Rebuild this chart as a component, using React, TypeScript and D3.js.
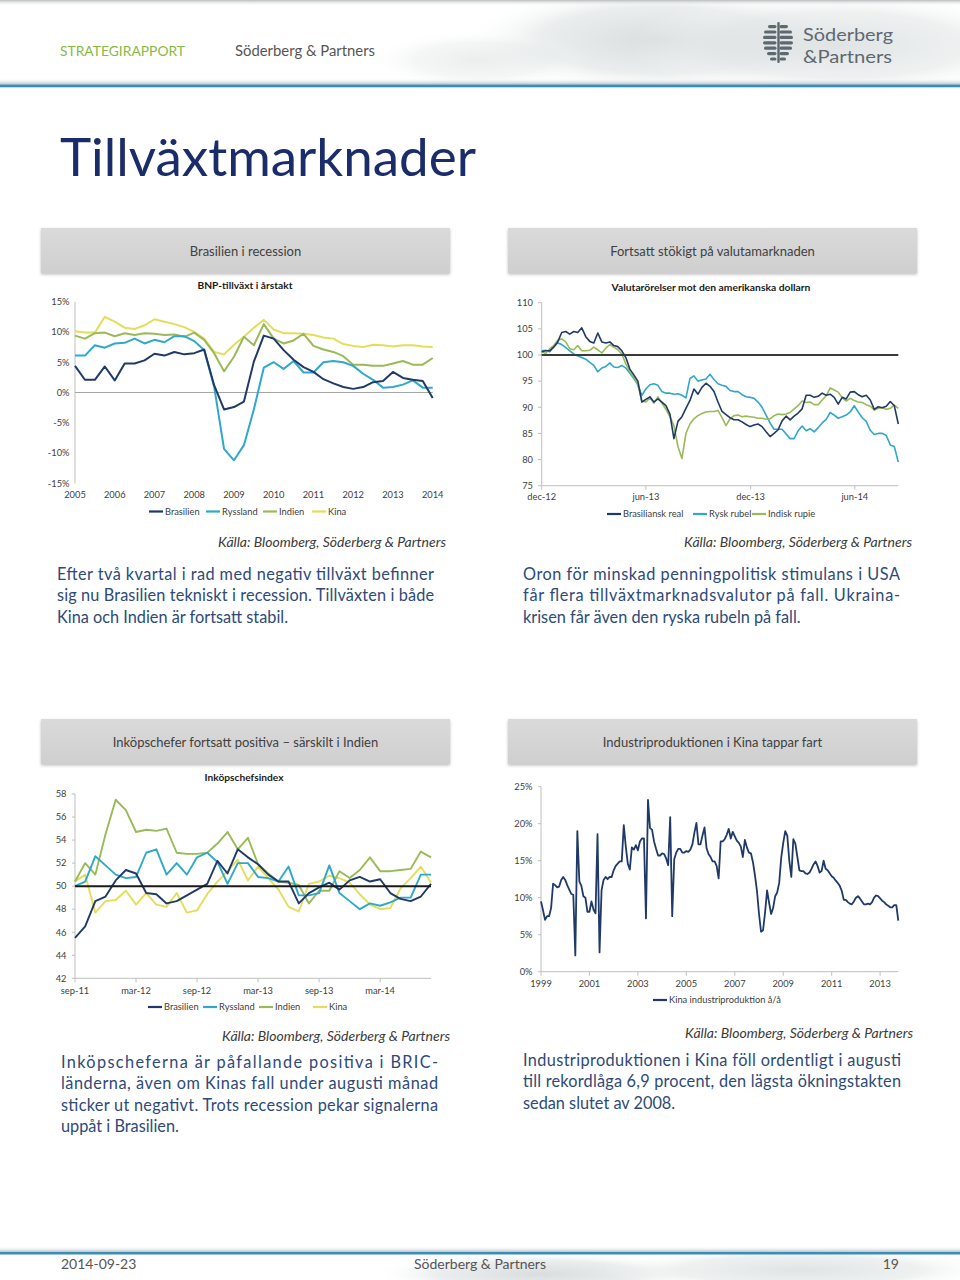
import React from 'react';
import * as d3 from 'd3';

const FONT = "Lato, 'Open Sans', 'DejaVu Sans', sans-serif";
const NAVY = '#1f3a68';
const TEAL = '#2fa8c9';
const GREEN = '#9aba58';
const YELLOW = '#e3de5a';
const AXIS = '#bfbfbf';
const LABEL = '#404040';

// ---------- Chart 1: BNP-tillväxt i årstakt (quarterly, %) ----------
const GDP_YEARS = ['2005', '2006', '2007', '2008', '2009', '2010', '2011', '2012', '2013', '2014'];
const GDP_BRASILIEN = [4.4, 2.1, 2.1, 4.3, 2.0, 4.8, 4.8, 5.3, 6.4, 6.1, 6.7, 6.3, 6.5, 7.1, 1.2, -2.8, -2.4, -1.5, 5.1, 9.4, 8.9, 7.0, 5.4, 4.2, 3.4, 2.2, 1.5, 0.9, 0.6, 0.9, 1.7, 1.9, 3.4, 2.4, 2.1, 1.9, -0.9];
const GDP_RYSSLAND = [6.1, 6.1, 7.8, 7.4, 8.1, 8.2, 8.9, 8.1, 8.7, 8.3, 9.3, 9.3, 8.5, 7.0, 1.0, -9.3, -11.2, -8.7, -2.8, 4.1, 5.0, 3.9, 5.2, 3.3, 3.3, 5.0, 5.2, 5.0, 4.4, 3.1, 2.1, 0.8, 0.9, 1.3, 2.0, 0.8, 0.8];
const GDP_INDIEN = [9.4, 8.9, 9.8, 9.9, 9.3, 9.8, 9.5, 9.8, 9.7, 9.5, 9.6, 9.2, 9.9, 8.7, 6.5, 3.5, 5.9, 9.2, 7.8, 11.3, 8.9, 8.1, 8.6, 9.7, 7.7, 7.1, 6.7, 6.0, 4.6, 4.6, 4.4, 4.4, 4.8, 5.2, 4.6, 4.6, 5.7];
const GDP_KINA = [10.1, 9.9, 9.9, 12.5, 11.7, 10.7, 10.5, 11.1, 12.1, 11.7, 11.3, 10.8, 10.0, 8.9, 6.7, 6.3, 7.9, 9.2, 10.7, 12.0, 10.4, 9.8, 9.8, 9.7, 9.5, 9.1, 8.9, 8.0, 7.7, 7.5, 7.9, 7.8, 7.6, 7.8, 7.8, 7.6, 7.5];
const GDP_TICKS = [-15, -10, -5, 0, 5, 10, 15];

// ---------- Chart 2: Valutarörelser (weekly index, dec-12 = 100) ----------
const FX_START = new Date(2012, 11, 1);
const FX_MONTH_TICKS = [new Date(2012, 11, 1), new Date(2013, 5, 1), new Date(2013, 11, 1), new Date(2014, 5, 1)];
const FX_MONTH_LABELS = ['dec-12', 'jun-13', 'dec-13', 'jun-14'];
const FX_TICKS = [75, 80, 85, 90, 95, 100, 105, 110];
const FX_REAL = [100.6, 100.8, 100.8, 101.5, 102.5, 104.3, 104.5, 104.0, 104.5, 104.3, 105.2, 103.5, 102.6, 102.3, 104.2, 102.5, 102.3, 102.5, 101.8, 101.6, 100.8, 99.5, 97.3, 96.2, 95.0, 91.0, 91.5, 92.0, 91.0, 91.6,
  91.0, 90.3, 88.7, 84.0, 87.3, 88.2, 89.8, 91.3, 93.5, 92.5, 93.8, 94.6, 94.0, 93.0, 91.0, 89.2, 88.6, 88.0, 87.6, 87.6, 87.2, 86.7, 86.3, 86.6, 86.8, 86.3, 85.3, 84.4, 85.0, 85.7,
  87.4, 88.3, 87.6, 88.3, 88.9, 89.7, 92.3, 92.3, 91.9, 92.1, 92.7, 92.3, 92.5, 91.9, 90.6, 91.9, 91.6, 92.9, 93.0, 92.4, 92.0, 92.3, 91.4, 89.6, 90.1, 89.9, 90.2, 91.1, 90.3, 86.8];
const FX_RUBEL = [100.8, 100.9, 100.6, 101.6, 102.3, 102.0, 101.4, 100.8, 100.2, 99.8, 99.5, 99.2, 98.6, 98.0, 96.8, 97.5, 97.8, 98.5, 97.7, 97.6, 98.0, 97.5, 96.5, 95.5, 94.3, 92.3, 93.5, 94.3, 94.5, 94.2,
  93.0, 92.7, 92.7, 92.5, 92.6, 92.3, 91.8, 95.5, 96.0, 95.0, 95.2, 95.4, 96.3, 95.3, 94.5, 94.2, 94.0, 93.2, 93.0, 93.0, 92.4, 92.0, 91.9, 91.7, 91.0, 90.0, 88.5, 87.0, 85.8, 85.8,
  85.8, 84.9, 84.0, 84.0, 85.5, 86.4, 85.5, 85.9, 85.3, 86.1, 87.0, 87.7, 89.0, 88.5, 87.9, 88.2, 88.5, 89.1, 90.3, 89.1, 88.0, 87.3, 85.6, 84.8, 85.0, 85.0, 84.6, 82.8, 82.5, 79.5];
const FX_RUPIE = [100.6, 100.3, 101.2, 101.8, 102.8, 103.1, 102.5, 101.2, 101.0, 101.8, 100.8, 100.8, 100.9, 101.5, 101.0, 100.4, 101.3, 102.0, 101.5, 101.0, 100.2, 98.3, 96.8, 95.8, 94.3, 91.2, 91.0, 91.8, 90.8, 92.0,
  90.8, 89.6, 88.2, 86.5, 82.5, 80.2, 85.0, 86.8, 87.8, 88.4, 88.8, 89.1, 89.2, 89.2, 89.4, 88.0, 86.5, 87.8, 88.4, 88.5, 88.2, 88.3, 88.2, 88.1, 87.9, 87.9, 87.7, 87.8, 88.4, 88.7,
  88.6, 88.7, 89.0, 89.7, 90.3, 91.2, 90.9, 91.0, 90.5, 90.5, 91.4, 92.2, 93.7, 93.3, 92.9, 91.8, 91.2, 91.7, 91.3, 91.0, 90.9, 90.5, 90.2, 89.5, 89.8, 89.9, 89.6, 89.8, 90.4, 89.8];

// ---------- Chart 3: Inköpschefsindex (monthly) ----------
const PMI_LABELS = ['sep-11', 'mar-12', 'sep-12', 'mar-13', 'sep-13', 'mar-14'];
const PMI_TICKS = [42, 44, 46, 48, 50, 52, 54, 56, 58];
const PMI_BRASILIEN = [45.5, 46.5, 48.7, 49.1, 50.5, 51.4, 51.1, 49.4, 49.3, 48.5, 48.7, 49.2, 49.7, 50.2, 52.2, 51.1, 53.2, 52.5, 51.9, 51.0, 50.4, 50.4, 48.5, 49.4, 49.9, 50.3, 49.7, 50.5, 50.8, 50.4, 50.6, 49.4, 48.9, 48.7, 49.1, 50.2];
const PMI_RYSSLAND = [50.0, 50.4, 52.6, 51.8, 51.0, 50.7, 50.8, 52.9, 53.2, 51.0, 52.0, 51.0, 52.5, 52.9, 52.1, 50.2, 52.0, 52.0, 50.8, 50.7, 50.4, 51.7, 49.2, 49.2, 49.4, 51.8, 49.4, 48.7, 48.0, 48.5, 48.3, 48.6, 49.0, 49.0, 51.0, 51.0];
const PMI_INDIEN = [50.4, 52.0, 51.0, 54.5, 57.5, 56.6, 54.7, 54.9, 54.8, 55.0, 52.9, 52.8, 52.8, 52.9, 53.7, 54.7, 53.2, 54.2, 51.9, 51.1, 50.4, 50.3, 50.1, 48.5, 49.6, 49.6, 51.3, 50.7, 51.4, 52.5, 51.3, 51.3, 51.4, 51.5, 53.0, 52.5];
const PMI_KINA = [50.4, 51.0, 47.7, 48.7, 48.8, 49.6, 48.4, 49.4, 48.4, 48.2, 49.4, 47.7, 47.9, 49.3, 50.4, 51.3, 52.3, 50.5, 51.7, 50.7, 49.7, 48.2, 47.8, 50.2, 50.4, 50.9, 50.7, 50.3, 49.3, 48.4, 48.0, 48.1, 49.8, 50.7, 51.7, 50.3];

// ---------- Chart 4: Kina industriproduktion å/å (monthly, %) ----------
const IP_YEARS = ['1999', '2001', '2003', '2005', '2007', '2009', '2011', '2013'];
const IP_TICKS = [0, 5, 10, 15, 20, 25];
const IP_KINA = [9.5, 8.3, 7.0, 7.5, 7.5, 8.6, 11.9, 11.7, 11.4, 11.5, 12.4, 12.8, 12.4, 11.7, 11.1, 10.5, 10.4,
  2.2, 19.0,
  12.2, 11.6, 10.2, 10.0, 8.1, 8.1, 9.5, 8.4, 7.9,
  18.6, 2.6,
  11.0, 12.4, 12.8, 12.5, 12.8, 12.8, 13.7, 14.3, 14.6, 14.9, 14.9, 19.8, 16.9, 14.6, 13.8, 16.8, 16.5, 17.1, 16.4, 17.6, 18.0, 18.0,
  7.2, 23.2,
  19.4, 19.2, 17.6, 16.6, 15.7, 15.7, 16.0, 15.9, 15.3, 14.4,
  20.9, 7.5,
  15.2, 16.1, 16.6, 16.6, 16.1, 16.1, 16.3, 16.2, 16.5, 17.2, 18.8, 20.1, 17.2, 17.2,
  18.4, 19.5, 16.7, 15.9, 15.5, 14.9, 14.9, 14.3, 12.6, 17.6,
  17.6, 17.9, 18.5, 19.3, 18.0, 18.9, 18.3, 17.7, 17.4, 16.9,
  15.5, 17.8, 16.8, 16.1, 16.0, 14.8, 13.0, 10.9, 7.8, 5.4,
  5.6, 8.0, 11.0, 9.3, 7.8, 8.6, 10.2, 10.7, 12.0, 15.4,
  17.4, 19.0, 18.4, 15.0, 12.8, 17.9, 17.3, 15.5, 13.7, 13.6,
  13.6, 13.3, 13.2, 13.4, 13.9, 14.5, 14.9, 14.3, 13.4, 13.6,
  15.0, 13.9, 13.7, 13.3, 12.9, 12.7, 12.3, 12.0, 11.6, 10.9,
  9.7, 9.7, 9.4, 9.2, 9.1, 9.5, 10.0, 10.2, 9.9, 9.5,
  9.1, 9.1, 9.2, 9.1, 9.4, 10.0, 10.3, 10.2, 9.9, 9.6,
  9.4, 9.1, 8.9, 8.7, 8.7, 9.0, 9.0, 6.9];

type Sx = (v: number) => number;

function seriesPath(vals: number[], x: (i: number) => number, y: Sx): string {
  return d3.line<number>().x((_, i) => x(i)).y((d) => y(d))(vals) ?? '';
}

function Legend({ items, y }: { items: { label: string; color: string; x: number }[]; y: number }) {
  return (
    <g>
      {items.map((it) => (
        <g key={it.label}>
          <line x1={it.x} x2={it.x + 14} y1={y} y2={y} stroke={it.color} strokeWidth={2.2} />
          <text x={it.x + 16} y={y + 3.3} fontSize={9.3} fill={LABEL}>{it.label}</text>
        </g>
      ))}
    </g>
  );
}

function GdpChart() {
  const x = d3.scaleLinear().domain([0, GDP_BRASILIEN.length - 1]).range([75, 432.7]);
  const y = d3.scaleLinear().domain([-15, 15]).range([483.3, 301.7]);
  const xi = (i: number) => x(i);
  const series = [
    { d: GDP_KINA, c: YELLOW },
    { d: GDP_INDIEN, c: GREEN },
    { d: GDP_RYSSLAND, c: TEAL },
    { d: GDP_BRASILIEN, c: NAVY },
  ];
  return (
    <g>
      <text x={245} y={289} textAnchor="middle" fontSize={10.2} fontWeight={700} fill="#1a1a1a">BNP-tillväxt i årstakt</text>
      {GDP_TICKS.map((t) => (
        <text key={t} x={69.5} y={y(t) + 3.3} textAnchor="end" fontSize={9.3} fill={LABEL}>{`${t}%`}</text>
      ))}
      <line x1={75} x2={75} y1={y(15)} y2={y(-15)} stroke={AXIS} />
      <line x1={75} x2={x(36)} y1={y(0)} y2={y(0)} stroke="#a6a6a6" />
      {GDP_YEARS.map((yr, k) => (
        <text key={yr} x={x(k * 4)} y={497.5} textAnchor="middle" fontSize={9.3} fill={LABEL}>{yr}</text>
      ))}
      {series.map((s, k) => (
        <path key={k} d={seriesPath(s.d, xi, y)} fill="none" stroke={s.c} strokeWidth={2} strokeLinejoin="round" />
      ))}
      <Legend y={511.5} items={[
        { label: 'Brasilien', color: NAVY, x: 149 },
        { label: 'Ryssland', color: TEAL, x: 206 },
        { label: 'Indien', color: GREEN, x: 263 },
        { label: 'Kina', color: YELLOW, x: 312 },
      ]} />
    </g>
  );
}

function FxChart() {
  const dates = FX_REAL.map((_, i) => d3.timeDay.offset(FX_START, i * 7));
  const x = d3.scaleTime().domain([FX_START, dates[dates.length - 1]]).range([541.7, 898.3]);
  const y = d3.scaleLinear().domain([75, 110]).range([485.7, 302.7]);
  const xi = (i: number) => x(dates[i]);
  const series = [
    { d: FX_RUBEL, c: TEAL },
    { d: FX_RUPIE, c: GREEN },
    { d: FX_REAL, c: NAVY },
  ];
  return (
    <g>
      <text x={711} y={290.5} textAnchor="middle" fontSize={10.3} fontWeight={700} fill="#1a1a1a">Valutarörelser mot den amerikanska dollarn</text>
      {FX_TICKS.map((t) => (
        <g key={t}>
          <text x={533} y={y(t) + 3.3} textAnchor="end" fontSize={9.3} fill={LABEL}>{t}</text>
          <line x1={538} x2={541.7} y1={y(t)} y2={y(t)} stroke={AXIS} />
        </g>
      ))}
      <line x1={541.7} x2={541.7} y1={y(110)} y2={y(75)} stroke={AXIS} />
      <line x1={541.7} x2={898.3} y1={y(75)} y2={y(75)} stroke={AXIS} />
      {FX_MONTH_TICKS.map((d, k) => (
        <g key={k}>
          <line x1={x(d)} x2={x(d)} y1={y(75)} y2={y(75) + 4} stroke={AXIS} />
          <text x={x(d)} y={500} textAnchor="middle" fontSize={9.3} fill={LABEL}>{FX_MONTH_LABELS[k]}</text>
        </g>
      ))}
      {series.map((s, k) => (
        <path key={k} d={seriesPath(s.d, xi, y)} fill="none" stroke={s.c} strokeWidth={1.6} strokeLinejoin="round" />
      ))}
      <line x1={541.7} x2={898.3} y1={y(100)} y2={y(100)} stroke="#3a3a3a" strokeWidth={2.2} />
      <Legend y={514} items={[
        { label: 'Brasiliansk real', color: NAVY, x: 607 },
        { label: 'Rysk rubel', color: TEAL, x: 693 },
        { label: 'Indisk rupie', color: GREEN, x: 752 },
      ]} />
    </g>
  );
}

function PmiChart() {
  const x = d3.scaleLinear().domain([0, PMI_BRASILIEN.length - 1]).range([75, 431]);
  const y = d3.scaleLinear().domain([42, 58]).range([978.3, 794]);
  const xi = (i: number) => x(i);
  const series = [
    { d: PMI_KINA, c: YELLOW },
    { d: PMI_INDIEN, c: GREEN },
    { d: PMI_RYSSLAND, c: TEAL },
    { d: PMI_BRASILIEN, c: NAVY },
  ];
  return (
    <g>
      <text x={244} y={781} textAnchor="middle" fontSize={10.2} fontWeight={700} fill="#1a1a1a">Inköpschefsindex</text>
      {PMI_TICKS.map((t) => (
        <g key={t}>
          <text x={66.5} y={y(t) + 3.3} textAnchor="end" fontSize={9.3} fill={LABEL}>{t}</text>
          <line x1={72} x2={75} y1={y(t)} y2={y(t)} stroke={AXIS} />
        </g>
      ))}
      <line x1={75} x2={75} y1={y(58)} y2={y(42)} stroke={AXIS} />
      <line x1={75} x2={431} y1={y(42)} y2={y(42)} stroke={AXIS} />
      {PMI_LABELS.map((lb, k) => (
        <g key={lb}>
          <line x1={x(k * 6)} x2={x(k * 6)} y1={y(42)} y2={y(42) + 4} stroke={AXIS} />
          <text x={x(k * 6)} y={993.5} textAnchor="middle" fontSize={9.3} fill={LABEL}>{lb}</text>
        </g>
      ))}
      {series.map((s, k) => (
        <path key={k} d={seriesPath(s.d, xi, y)} fill="none" stroke={s.c} strokeWidth={1.9} strokeLinejoin="round" />
      ))}
      <line x1={75} x2={431} y1={y(50)} y2={y(50)} stroke="#1a1a1a" strokeWidth={2} />
      <Legend y={1007} items={[
        { label: 'Brasilien', color: NAVY, x: 148 },
        { label: 'Ryssland', color: TEAL, x: 203 },
        { label: 'Indien', color: GREEN, x: 259 },
        { label: 'Kina', color: YELLOW, x: 313 },
      ]} />
    </g>
  );
}

function IpChart() {
  const x = d3.scaleLinear().domain([0, IP_KINA.length - 1]).range([541, 898.3]);
  const y = d3.scaleLinear().domain([0, 25]).range([971.7, 786.7]);
  const xi = (i: number) => x(i);
  return (
    <g>
      {IP_TICKS.map((t) => (
        <g key={t}>
          <text x={532.5} y={y(t) + 3.3} textAnchor="end" fontSize={9.3} fill={LABEL}>{`${t}%`}</text>
          <line x1={538} x2={541} y1={y(t)} y2={y(t)} stroke={AXIS} />
        </g>
      ))}
      <line x1={541} x2={541} y1={y(25)} y2={y(0)} stroke={AXIS} />
      <line x1={541} x2={898.3} y1={y(0)} y2={y(0)} stroke={AXIS} />
      {IP_YEARS.map((yr, k) => (
        <g key={yr}>
          <line x1={x(k * 24)} x2={x(k * 24)} y1={y(0)} y2={y(0) + 4} stroke={AXIS} />
          <text x={x(k * 24)} y={986.5} textAnchor="middle" fontSize={9.3} fill={LABEL}>{yr}</text>
        </g>
      ))}
      <path d={seriesPath(IP_KINA, xi, y)} fill="none" stroke={NAVY} strokeWidth={1.8} strokeLinejoin="round" />
      <Legend y={1000} items={[{ label: 'Kina industriproduktion å/å', color: NAVY, x: 653 }]} />
    </g>
  );
}

function SectionBox({ x, y, label }: { x: number; y: number; label: string }) {
  return (
    <g>
      <rect x={x} y={y} width={409} height={45} fill="url(#boxGrad)" filter="url(#boxShadow)" />
      <text x={x + 204.5} y={y + 27.5} textAnchor="middle" fontSize={13} fill="#404040">{label}</text>
    </g>
  );
}

function Paragraph({ x, y, width, lines }: { x: number; y: number; width: number; lines: string[] }) {
  return (
    <g>
      {lines.map((ln, k) => {
        const last = k === lines.length - 1;
        return (
          <text key={k} x={x} y={y + k * 21.3} fontSize={16.3} fill="#2e4a78"
            {...(last ? {} : { textLength: width, lengthAdjust: 'spacing' })}>{ln}</text>
        );
      })}
    </g>
  );
}

function Source({ xEnd, y }: { xEnd: number; y: number }) {
  return (
    <text x={xEnd} y={y} textAnchor="end" fontSize={14} fontStyle="italic" fill="#3a3a3a">Källa: Bloomberg, Söderberg &amp; Partners</text>
  );
}

function Logo() {
  const rows = [0, 1, 2, 3, 4, 5, 6];
  const widths = [10, 14, 15, 15, 14, 11, 8];
  return (
    <g fill="#5d6870">
      {rows.map((r) => {
        const cy = 25 + r * 5.4;
        const w = widths[r];
        return (
          <g key={r}>
            <rect x={778 - w} y={cy} width={w - 1.5} height={3.2} rx={1.6} />
            <rect x={779.5} y={cy} width={w - 1.5} height={3.2} rx={1.6} />
          </g>
        );
      })}
      <rect x={777.3} y={22} width={2.4} height={41} rx={1} />
      <text x={803} y={40.5} fontSize={18} textLength={90} lengthAdjust="spacingAndGlyphs" fill="#5d6870">Söderberg</text>
      <text x={803} y={62.5} fontSize={18} textLength={89} lengthAdjust="spacingAndGlyphs" fill="#5d6870">&amp;Partners</text>
    </g>
  );
}

export default function App() {
  return (
    <svg width={960} height={1280} viewBox="0 0 960 1280" fontFamily={FONT}
      style={{ position: 'absolute', left: 0, top: 0, background: '#ffffff' }}>
      <defs>
        <linearGradient id="boxGrad" x1="0" y1="0" x2="0" y2="1">
          <stop offset="0" stopColor="#dadada" />
          <stop offset="1" stopColor="#cfcfcf" />
        </linearGradient>
        <filter id="boxShadow" x="-5%" y="-20%" width="110%" height="150%">
          <feDropShadow dx="0" dy="1.5" stdDeviation="1.5" floodColor="#000" floodOpacity="0.25" />
        </filter>
        <linearGradient id="topEdge" x1="0" y1="0" x2="0" y2="1">
          <stop offset="0" stopColor="#b9bcbe" />
          <stop offset="1" stopColor="#ffffff" stopOpacity="0" />
        </linearGradient>
        <linearGradient id="lineShade" x1="0" y1="0" x2="0" y2="1">
          <stop offset="0" stopColor="#ffffff" stopOpacity="0" />
          <stop offset="1" stopColor="#b8c2c8" />
        </linearGradient>
        <radialGradient id="cloud" cx="0.5" cy="0.5" r="0.5">
          <stop offset="0" stopColor="#d6dbdb" stopOpacity="0.95" />
          <stop offset="0.6" stopColor="#e2e6e6" stopOpacity="0.7" />
          <stop offset="1" stopColor="#ffffff" stopOpacity="0" />
        </radialGradient>
      </defs>

      {/* header */}
      <ellipse cx={660} cy={40} rx={200} ry={55} fill="url(#cloud)" />
      <ellipse cx={840} cy={45} rx={210} ry={55} fill="url(#cloud)" opacity={0.8} />
      <ellipse cx={480} cy={60} rx={110} ry={30} fill="url(#cloud)" opacity={0.5} />
      <rect x={0} y={0} width={960} height={6} fill="url(#topEdge)" />
      <rect x={0} y={78} width={960} height={6.5} fill="url(#lineShade)" />
      <rect x={0} y={84.5} width={960} height={2.8} fill="#3a8db6" />
      <text x={60} y={56} fontSize={14} fill="#86bb3f" textLength={125} lengthAdjust="spacingAndGlyphs">STRATEGIRAPPORT</text>
      <text x={235} y={56} fontSize={14.5} fill="#555" textLength={140} lengthAdjust="spacingAndGlyphs">Söderberg &amp; Partners</text>
      <Logo />

      <text x={60} y={176} fontSize={52} fontWeight={400} fill="#1b2c6b" textLength={416} lengthAdjust="spacingAndGlyphs">Tillväxtmarknader</text>

      <SectionBox x={41} y={228} label="Brasilien i recession" />
      <SectionBox x={508} y={228} label="Fortsatt stökigt på valutamarknaden" />
      <SectionBox x={41} y={719} label="Inköpschefer fortsatt positiva – särskilt i Indien" />
      <SectionBox x={508} y={719} label="Industriproduktionen i Kina tappar fart" />

      <GdpChart />
      <FxChart />
      <PmiChart />
      <IpChart />

      <Source xEnd={446} y={546.5} />
      <Source xEnd={912} y={546.5} />
      <Source xEnd={450} y={1040.5} />
      <Source xEnd={913} y={1037.5} />

      <Paragraph x={57} y={580} width={377} lines={[
        'Efter två kvartal i rad med negativ tillväxt befinner',
        'sig nu Brasilien tekniskt i recession. Tillväxten i både',
        'Kina och Indien är fortsatt stabil.',
      ]} />
      <Paragraph x={523} y={580} width={377} lines={[
        'Oron för minskad penningpolitisk stimulans i USA',
        'får flera tillväxtmarknadsvalutor på fall. Ukraina-',
        'krisen får även den ryska rubeln på fall.',
      ]} />
      <Paragraph x={61} y={1068} width={377} lines={[
        'Inköpscheferna är påfallande positiva i BRIC-',
        'länderna, även om Kinas fall under augusti månad',
        'sticker ut negativt. Trots recession pekar signalerna',
        'uppåt i Brasilien.',
      ]} />
      <Paragraph x={523} y={1066} width={378} lines={[
        'Industriproduktionen i Kina föll ordentligt i augusti',
        'till rekordlåga 6,9 procent, den lägsta ökningstakten',
        'sedan slutet av 2008.',
      ]} />

      {/* footer */}
      <ellipse cx={540} cy={1274} rx={170} ry={22} fill="url(#cloud)" />
      <ellipse cx={800} cy={1270} rx={200} ry={24} fill="url(#cloud)" opacity={0.8} />
      <rect x={0} y={1246} width={960} height={6} fill="url(#lineShade)" />
      <rect x={0} y={1252} width={960} height={2.5} fill="#3a8db6" />
      <text x={61} y={1269} fontSize={14} fill="#555">2014-09-23</text>
      <text x={480} y={1269} fontSize={14} fill="#555" textAnchor="middle">Söderberg &amp; Partners</text>
      <text x={899} y={1269} fontSize={14} fill="#555" textAnchor="end">19</text>
    </svg>
  );
}
